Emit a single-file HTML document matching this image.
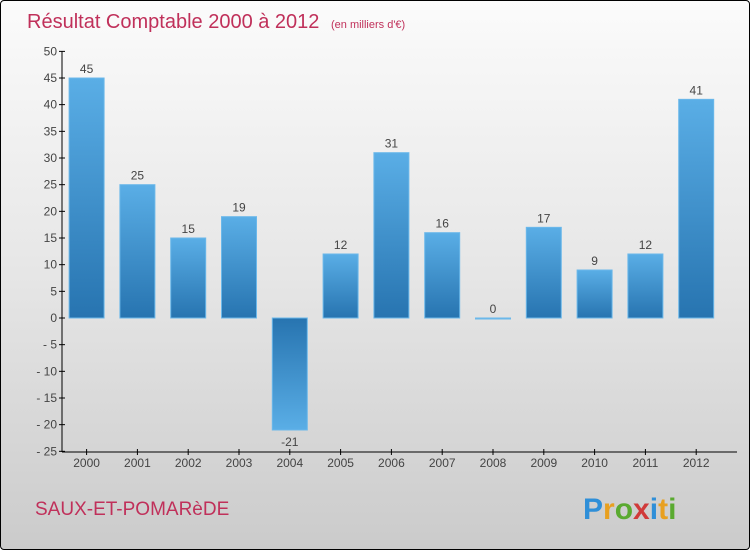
<!DOCTYPE html>
<html><head><meta charset="utf-8"><style>
body{margin:0}
#c{position:relative;width:748px;height:548px;border:1px solid #000;border-radius:4px;background:linear-gradient(#fbfbfb,#e6e6e6 50%,#cbcbcb);overflow:hidden;font-family:"Liberation Sans",sans-serif}
</style></head><body>
<div id="c">
<svg width="748" height="548">
<defs>
<linearGradient id="gp" x1="0" y1="0" x2="0" y2="1"><stop offset="0" stop-color="#5aaee6"/><stop offset="1" stop-color="#2774b0"/></linearGradient>
<linearGradient id="gn" x1="0" y1="0" x2="0" y2="1"><stop offset="0" stop-color="#2774b0"/><stop offset="1" stop-color="#5aaee6"/></linearGradient>
</defs>
<text x="26" y="27" font-size="20" fill="#c0305a">Résultat Comptable 2000 à 2012 <tspan font-size="11" dx="6">(en milliers d'€)</tspan></text>
<g id="axes"></g>
<g id="bars"></g>
<text x="34" y="514" font-size="19" fill="#c0305a">SAUX-ET-POMARèDE</text>
<text x="582" y="518" font-size="30" font-weight="bold"><tspan fill="#2f8fd8">P</tspan><tspan fill="#e8a020">r</tspan><tspan fill="#5aaa30">o</tspan><tspan fill="#d03a3a">x</tspan><tspan fill="#2f8fd8">i</tspan><tspan fill="#e8a020">t</tspan><tspan fill="#5aaa30">i</tspan></text>
</svg></div>
<script>
const years=["2000","2001","2002","2003","2004","2005","2006","2007","2008","2009","2010","2011","2012"];
const values=[45,25,15,19,-21,12,31,16,0,17,9,12,41];
const yTicks=[50,45,40,35,30,25,20,15,10,5,0,-5,-10,-15,-20,-25];
const NS="http://www.w3.org/2000/svg";
const y=v=>317-(v)*5.333;
const x=i=>85.6+i*50.8;
const ax=document.getElementById('axes'),bg=document.getElementById('bars');
function mk(t,a,p){const e=document.createElementNS(NS,t);for(const k in a)e.setAttribute(k,a[k]);p.appendChild(e);return e;}
let l=mk('line',{x1:61,y1:50,x2:61,y2:451,stroke:'#000'},ax);


l=mk('line',{x1:61,y1:451,x2:736,y2:451,stroke:'#000'},ax);


yTicks.forEach(v=>{
 mk('line',{x1:58,x2:64,y1:y(v),y2:y(v),stroke:'#000'},ax);
 const t=mk('text',{x:56,y:y(v)+4,'text-anchor':'end','font-size':12,fill:'#444'},ax);
 t.textContent=String(v).replace('-','- ');
 
 
});
years.forEach((yr,i)=>{
 const v=values[i];
 mk('line',{x1:x(i),x2:x(i),y1:448,y2:454,stroke:'#000'},ax);
 const t=mk('text',{x:x(i),y:466,'text-anchor':'middle','font-size':12,fill:'#444'},ax);
 t.textContent=yr;
 
 
 const top=Math.min(y(v),y(0)),h=Math.max(Math.abs(y(v)-y(0)),1);
 const r=mk('rect',{x:x(i)-17.5,y:top,width:35,height:h,fill:v<0?'url(#gn)':'url(#gp)',stroke:'#6bb8ea','stroke-width':1},bg);
 
 
 const lb=mk('text',{x:x(i),y:v<0?y(v)+16:y(v)-5,'text-anchor':'middle','font-size':12,fill:'#444'},bg);
 lb.textContent=v;
 
 
});
</script>
</body></html>
